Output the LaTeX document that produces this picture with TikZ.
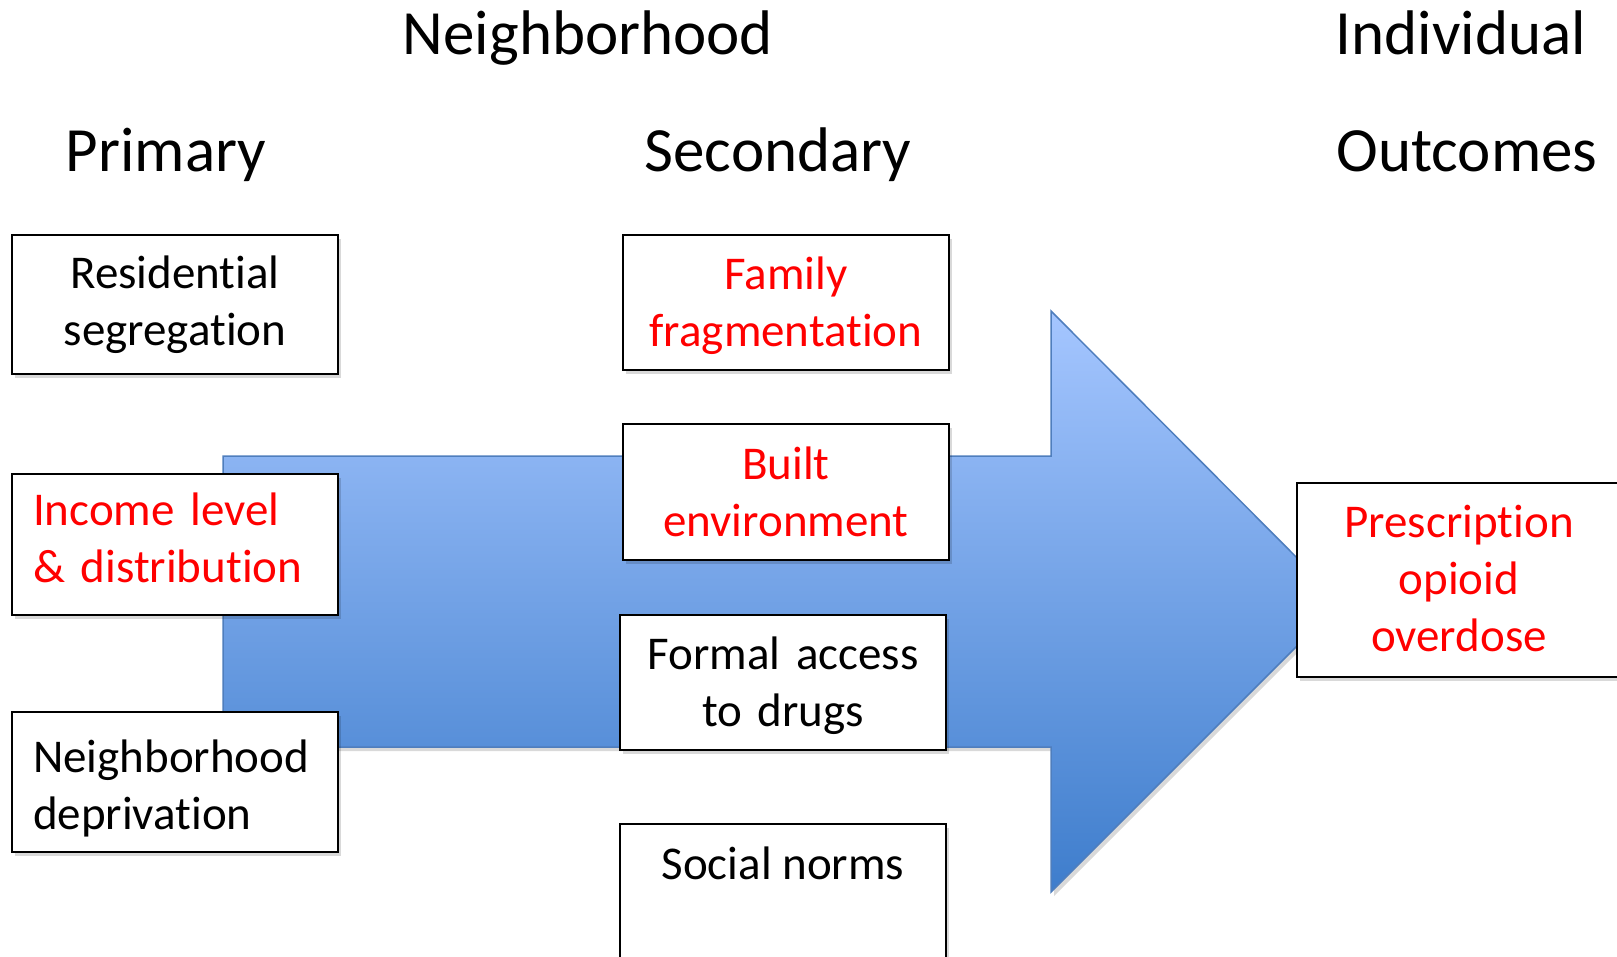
\documentclass[tikz,border=0pt]{standalone}
\usepackage{fontspec}
\setmainfont{Carlito}[Ligatures=NoCommon]
\usetikzlibrary{shadows}
\definecolor{arrtop}{RGB}{165,198,255}
\definecolor{arrbot}{RGB}{62,125,204}
\definecolor{arredge}{RGB}{79,126,189}
\definecolor{txtred}{RGB}{255,0,0}
\tikzset{
  boxc/.style={draw=black, line width=2.4pt, fill=white, inner sep=0pt,
    drop shadow={shadow xshift=3pt, shadow yshift=-4pt, opacity=0.15, fill=black}},
  txtc/.style={inner sep=0pt, align=center, font=\fontsize{47}{57}\selectfont},
  txtl/.style={txtc, align=left},
  title/.style={font=\fontsize{63}{76}\selectfont, anchor=base, inner sep=0pt},
  plain/.style={font=\fontsize{47}{57}\selectfont, anchor=base, inner sep=0pt},
}
\begin{document}
\begin{tikzpicture}[x=1pt,y=-1pt]
\useasboundingbox (0,0) rectangle (1617,957);
% big arrow
\path[draw=arredge, line width=1.5pt, top color=arrtop, bottom color=arrbot,
  drop shadow={shadow xshift=3pt, shadow yshift=-4pt, opacity=0.15, fill=black}]
  (223,456) -- (1051,456) -- (1051,311) -- (1341,602) -- (1051,892) -- (1051,747) -- (223,747) -- cycle;
% titles
\node[title] (tneigh) at (588,55) {Neighborhood};
\node[title] (tind) at (1461,55) {Individual};
\node[title] (tprim) at (166,172) {Primary};
\node[title] (tsec) at (778,172) {Secondary};
\node[title] (tout) at (1467,172) {Outcomes};
% primary boxes
\node[boxc, minimum width=326pt, minimum height=139pt] (res) at (175,304.5) {};
\node[txtc, text width=326pt] (rest) at (175,305) {Residential\\segregation};
\node[boxc, minimum width=326pt, minimum height=141pt] (inc) at (175,544.5) {};
\node[txtl, text width=284pt, text=txtred] (inct) at (175,537.5) {Income level\\\& distribution};
\node[boxc, minimum width=326pt, minimum height=140pt] (dep) at (175,782) {};
\node[txtl, text width=284pt] (dept) at (175,788) {Neighborhood\\deprivation};
% secondary boxes
\node[boxc, minimum width=326pt, minimum height=135pt] (fam) at (786,302.5) {};
\node[txtc, text width=326pt, text=txtred] (famt) at (786,305.5) {Family\\fragmentation};
\node[boxc, minimum width=326pt, minimum height=136pt] (built) at (786,492) {};
\node[txtc, text width=326pt, text=txtred] (builtt) at (786,492) {Built\\environment};
\node[boxc, minimum width=326pt, minimum height=135pt] (formal) at (783,682.5) {};
\node[txtc, text width=326pt] (formalt) at (783,685.5) {Formal access\\to drugs};
\node[boxc, minimum width=326pt, minimum height=200pt, anchor=north] (social) at (783,823) {};
\node[plain] (socialt) at (783,879) {Social norms};
% outcome
\node[boxc, minimum width=324pt, minimum height=194pt] (presc) at (1459,580) {};
\node[txtc, text width=324pt, text=txtred] (presct) at (1459,579) {Prescription\\opioid\\overdose};
\end{tikzpicture}
\end{document}
